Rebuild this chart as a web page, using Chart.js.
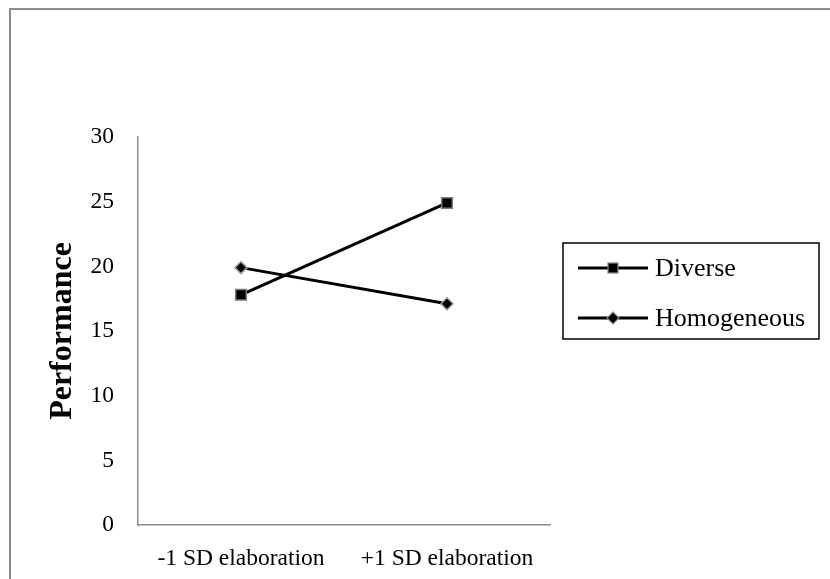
<!DOCTYPE html>
<html><head><meta charset="utf-8">
<script src="https://cdn.jsdelivr.net/npm/chart.js@4"></script>
<style>
html,body{margin:0;padding:0;background:#fff;}
#wrap{position:relative;width:830px;height:579px;}
#frame{position:absolute;left:9px;top:8px;width:830px;height:600px;border:2px solid #8c8c8c;box-sizing:border-box;pointer-events:none;}
canvas{position:absolute;left:0;top:0;}
</style></head>
<body>
<div id="wrap"><canvas id="c" width="830" height="579"></canvas><div id="frame"></div></div>
<script>
const categories = ["-1 SD elaboration", "+1 SD elaboration"];
const diverse = [17.8, 24.9];
const homogeneous = [19.9, 17.1];
const yTicks = [0, 5, 10, 15, 20, 25, 30];
const seriesNames = ["Diverse", "Homogeneous"];

const FONT = "'Liberation Serif', 'Times New Roman', serif";

const legendBox = {
  id: 'legendBox',
  afterDraw(chart) {
    const ctx = chart.ctx;
    const x0 = 563, y0 = 243, w = 256, h = 96;
    ctx.save();
    ctx.strokeStyle = '#000';
    ctx.lineWidth = 1.5;
    ctx.strokeRect(x0, y0, w, h);
    const rows = [268, 318];
    chart.data.datasets.forEach((ds, i) => {
      const y = rows[i];
      ctx.strokeStyle = '#000';
      ctx.lineWidth = 3;
      ctx.beginPath(); ctx.moveTo(578, y); ctx.lineTo(648, y); ctx.stroke();
      ctx.fillStyle = '#000';
      ctx.strokeStyle = '#8a8a8a';
      ctx.lineWidth = 1.2;
      if (ds.pointStyle === 'rect') {
        ctx.fillRect(608, y - 5, 10, 10);
        ctx.strokeRect(608, y - 5, 10, 10);
      } else {
        ctx.beginPath();
        ctx.moveTo(613, y - 6); ctx.lineTo(619, y); ctx.lineTo(613, y + 6); ctx.lineTo(607, y); ctx.closePath();
        ctx.fill(); ctx.stroke();
      }
      ctx.fillStyle = '#000';
      ctx.font = '26px ' + FONT;
      ctx.textBaseline = 'middle';
      ctx.textAlign = 'left';
      ctx.fillText(ds.label, 655, y + 1);
    });
    ctx.restore();
  }
};

new Chart(document.getElementById('c'), {
  type: 'line',
  data: {
    labels: categories,
    datasets: [
      { label: seriesNames[0], data: diverse, borderColor: '#000', borderWidth: 3,
        pointStyle: 'rect', pointRadius: 7.5, pointBackgroundColor: '#000',
        pointBorderColor: '#7a7a7a', pointBorderWidth: 1.5 },
      { label: seriesNames[1], data: homogeneous, borderColor: '#000', borderWidth: 3,
        pointStyle: 'rectRot', pointRadius: 6, pointBackgroundColor: '#000',
        pointBorderColor: '#9a9a9a', pointBorderWidth: 1.5 }
    ]
  },
  options: {
    responsive: false,
    animation: false,
    layout: { padding: { left: 0, right: 280, top: 137, bottom: 0 } },
    plugins: { legend: { display: false }, tooltip: { enabled: false } },
    scales: {
      x: {
        offset: true,
        grid: { display: false, drawTicks: false },
        border: { display: true, color: '#8c8c8c', width: 1.5 },
        ticks: { color: '#000', font: { family: FONT, size: 23.5 }, padding: 20, maxRotation: 0 },
        afterFit: s => { s.height = 54; }
      },
      y: {
        min: 0, max: 30,
        afterBuildTicks: s => { s.ticks = yTicks.map(v => ({ value: v })); },
        grid: { display: false, drawTicks: false },
        border: { display: true, color: '#8c8c8c', width: 1.5 },
        ticks: { color: '#000', font: { family: FONT, size: 23.5 }, padding: 24 },
        title: { display: true, text: 'Performance', color: '#000',
                 font: { family: FONT, size: 32, weight: 'bold' }, padding: { top: 44, bottom: 0 } },
        afterFit: s => { s.width = 138; }
      }
    }
  },
  plugins: [legendBox]
});
</script>
</body></html>
